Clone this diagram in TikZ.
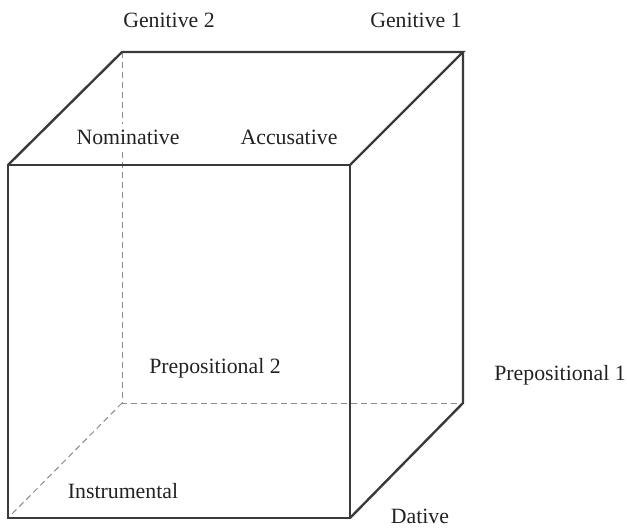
\documentclass[tikz,border=0pt]{standalone}
\usepackage{fontspec}
\setmainfont{Liberation Serif}
\definecolor{edgegray}{HTML}{3A3A3A}
\definecolor{hiddengray}{HTML}{8A8A8A}
\definecolor{textgray}{HTML}{222222}
\tikzset{
  edge/.style={draw=edgegray, line width=2.4bp, line join=miter},
  hidden/.style={draw=hiddengray, line width=1bp, dash pattern=on 6bp off 4bp},
  casename/.style={text=textgray, inner sep=0pt, font=\fontsize{21.8bp}{26bp}\selectfont}
}
\begin{document}
\begin{tikzpicture}[x=1bp,y=-1bp]
    \useasboundingbox (0,0) rectangle (627,528);
    % corners, front face
    \coordinate (f1) at (8,165);
    \coordinate (f2) at (350,165);
    \coordinate (f3) at (350,518);
    \coordinate (f4) at (8,518);
    % corners, back face
    \coordinate (b1) at (122,52);
    \coordinate (b2) at (463,52);
    \coordinate (b3) at (463,403);
    \coordinate (b4) at (122,403);
    % hidden edges
    \draw[hidden] (b1) -- (b4) -- (b3);
    \draw[hidden] (b4) -- (f4);
    % visible edges
    \draw[edge] (f1) -- (f2) -- (f3) -- (f4) -- cycle;
    \draw[edge] (f1) -- (b1) -- (b2) -- (f2);
    \draw[edge] (b2) -- (b3) -- (f3);
    % labels
    \node[casename] (gen2) at (169,20) {Genitive 2};
    \node[casename] (gen1) at (416,20) {Genitive 1};
    \node[casename, fill=white, inner ysep=6bp] (nom) at (128,137) {Nominative};
    \node[casename] (acc) at (289,137) {Accusative};
    \node[casename] (prep2) at (215,368) {Prepositional 2};
    \node[casename] (prep1) at (560,375) {Prepositional 1};
    \node[casename] (instr) at (123,491) {Instrumental};
    \node[casename] (dat) at (420,516) {Dative};
\end{tikzpicture}
\end{document}
